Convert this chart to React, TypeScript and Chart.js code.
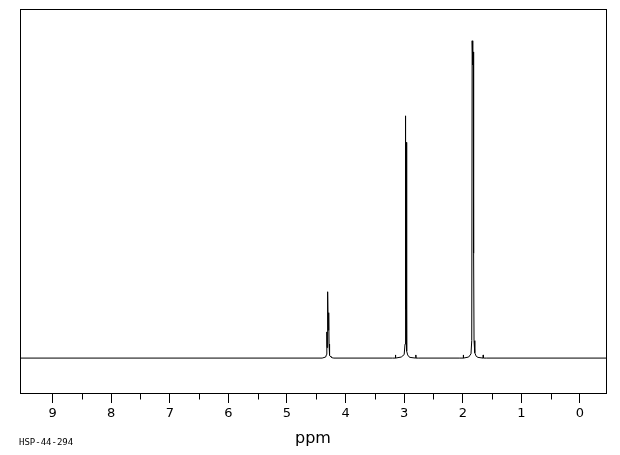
import React, { useEffect, useRef } from "react";
import { Chart, registerables } from "chart.js";

Chart.register(...registerables);

// Chemical shift (ppm) and relative intensity of the traced spectrum
const shiftPpm = [
  9.556, 4.4, 4.34, 4.326, 4.32, 4.315, 4.306, 4.297, 4.288, 4.282, 4.277, 4.27, 4.26, 4.25, 4.23, 4.2,
  3.2, 3.152, 3.149, 3.145, 3.05, 3.0, 2.986, 2.979, 2.974, 2.968, 2.963, 2.958, 2.952, 2.94, 2.92, 2.9,
  2.805, 2.801, 2.797, 2.75,
  2.05, 1.995, 1.991, 1.987, 1.9, 1.86, 1.847, 1.84, 1.833, 1.827, 1.821, 1.815, 1.808, 1.795, 1.77, 1.74,
  1.655, 1.651, 1.647, 1.6, -0.444,
];
const intensity = [
  0, 0, 0.3, 1.0, 7.5, 3.0, 19.0, 8.0, 13.0, 4.0, 1.5, 0.8, 0.5, 0.3, 0.1, 0,
  0, 0, 0.9, 0, 0.3, 1.0, 4.0, 69.4, 14.0, 61.8, 11.8, 4.5, 2.0, 0.9, 0.4, 0.2,
  0, 0.9, 0, 0,
  0, 0, 0.9, 0, 0.3, 1.2, 5.0, 90.9, 86.0, 84.0, 87.7, 30.0, 5.0, 1.5, 0.5, 0.2,
  0, 0.9, 0, 0, 0,
];

const majorTicks = [9, 8, 7, 6, 5, 4, 3, 2, 1, 0];
const minorTicks = [8.5, 7.5, 6.5, 5.5, 4.5, 3.5, 2.5, 1.5, 0.5];
const axisTitle = "ppm";
const sampleId = "HSP-44-294";

const framePlugin = {
  id: "nmrFrame",
  afterDraw(chart: any) {
    const { ctx, chartArea } = chart;
    const xs = chart.scales.x;
    ctx.save();
    ctx.strokeStyle = "#000";
    ctx.lineWidth = 1;
    const l = Math.round(chartArea.left) + 0.5;
    const t = Math.round(chartArea.top) + 0.5;
    const r = Math.round(chartArea.right) + 0.5;
    const b = Math.round(chartArea.bottom) + 0.5;
    ctx.strokeRect(l, t, r - l, b - t);
    ctx.beginPath();
    for (const v of minorTicks) {
      const x = Math.round(xs.getPixelForValue(v)) + 0.5;
      ctx.moveTo(x, b);
      ctx.lineTo(x, b + 6);
    }
    ctx.stroke();
    ctx.fillStyle = "#000";
    ctx.textBaseline = "middle";
    ctx.textAlign = "center";
    ctx.font = "16px 'DejaVu Sans'";
    ctx.fillText(axisTitle, (chartArea.left + chartArea.right) / 2, 439);
    ctx.textAlign = "left";
    ctx.font = "9px 'DejaVu Sans Mono'";
    ctx.fillText(sampleId, 19, 443);
    ctx.restore();
  },
};

export default function App() {
  const ref = useRef<HTMLCanvasElement | null>(null);
  useEffect(() => {
    if (!ref.current) return;
    const data = shiftPpm.map((x, i) => ({ x, y: intensity[i] }));
    const chart = new Chart(ref.current, {
      type: "line",
      data: {
        datasets: [
          {
            data,
            borderColor: "#000",
            borderWidth: 1,
            pointRadius: 0,
            tension: 0,
            fill: false,
          },
        ],
      },
      options: {
        animation: false,
        responsive: false,
        events: [],
        layout: { padding: { left: 20, top: 9, right: 14, bottom: 0 } },
        plugins: { legend: { display: false }, tooltip: { enabled: false } },
        scales: {
          x: {
            type: "linear",
            reverse: true,
            min: -0.444,
            max: 9.556,
            afterBuildTicks: (scale: any) => {
              scale.ticks = majorTicks.map((v) => ({ value: v }));
            },
            afterFit: (scale: any) => {
              scale.height = 62;
            },
            grid: {
              display: true,
              drawOnChartArea: false,
              drawTicks: true,
              tickLength: 10,
              color: "#000",
              lineWidth: 1,
            },
            border: { display: true, color: "#000", width: 1 },
            ticks: {
              color: "#000",
              padding: 3,
              maxRotation: 0,
              autoSkip: false,
              font: { family: "'DejaVu Sans'", size: 13 },
              callback: (v: any) => String(v),
            },
          },
          y: {
            display: false,
            min: -10,
            max: 100,
          },
        },
      },
      plugins: [framePlugin],
    });
    return () => chart.destroy();
  }, []);
  return (
    <div style={{ position: "fixed", left: 0, top: 0, width: 620, height: 455, background: "#fff" }}>
      <canvas ref={ref} width={620} height={455} style={{ display: "block" }} />
    </div>
  );
}
